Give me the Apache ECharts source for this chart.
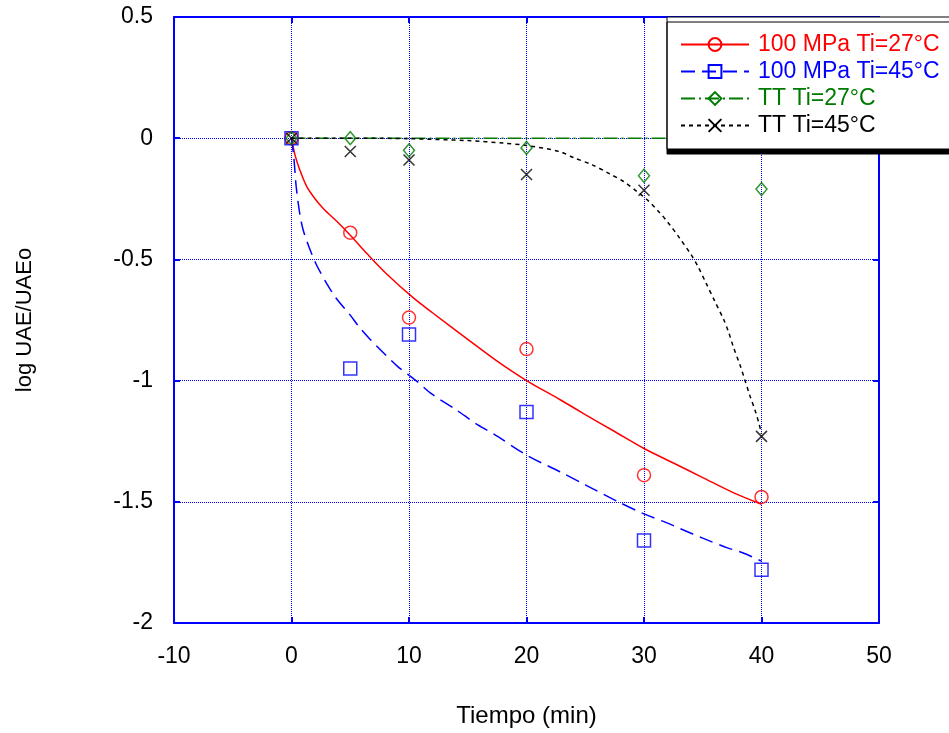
<!DOCTYPE html>
<html>
<head>
<meta charset="utf-8">
<script src="https://cdn.jsdelivr.net/npm/echarts@6/dist/echarts.min.js"></script>
<style>html,body{margin:0;padding:0;background:#fff}#c{width:949px;height:733px}</style>
</head>
<body>
<div id="c"></div>
<script>
// ---- data ----
const seriesNames = ['100 MPa Ti=27°C', '100 MPa Ti=45°C', 'TT Ti=27°C', 'TT Ti=45°C'];
const seriesColors = ['#ff0000', '#0000ff', '#007a00', '#000000'];
const timePoints = [0, 5, 10, 20, 30, 40];
const red27 = [0, -0.39, -0.74, -0.87, -1.39, -1.48];
const blue45 = [0, -0.95, -0.81, -1.13, -1.66, -1.78];
const green27 = [0, 0, -0.05, -0.04, -0.155, -0.21];
const black45 = [0, -0.055, -0.09, -0.15, -0.215, -1.23];

// fitted curves
const redFitT = [0, 0.3, 0.7, 1.3, 2, 2.7, 4, 5, 6.5, 8.1, 10.4, 12, 15, 17.5, 20, 22.9, 25, 27.5, 30, 32.5, 35, 37.5, 40];
const redFitY = [0, -0.07, -0.13, -0.2, -0.25, -0.29, -0.35, -0.40, -0.48, -0.56, -0.66, -0.72, -0.83, -0.92, -1.0, -1.08, -1.14, -1.21, -1.28, -1.34, -1.40, -1.46, -1.51];
const blueFitT = [0, 0.2, 0.4, 0.7, 1, 1.5, 2.1, 3, 3.8, 5, 5.7, 6.7, 7.8, 9, 10.6, 11.9, 14, 15.9, 17.2, 20.1, 22.8, 25, 27.8, 30, 31.9, 33.2, 35, 37.1, 38.4, 40];
const blueFitY = [0, -0.08, -0.2, -0.31, -0.38, -0.45, -0.52, -0.6, -0.66, -0.73, -0.775, -0.83, -0.884, -0.94, -1.0, -1.054, -1.12, -1.184, -1.22, -1.31, -1.375, -1.43, -1.5, -1.55, -1.586, -1.613, -1.65, -1.69, -1.71, -1.745];
const greenFitT = [0, 40];
const greenFitY = [0, 0];
const blackFitT = [0, 5, 10, 15, 18, 20, 22.8, 24, 25.6, 27, 28.3, 29.4, 30.3, 31.2, 32, 33, 34, 34.6, 35.3, 36, 36.8, 37.2, 37.6, 38.2, 38.6, 39, 39.5, 39.8, 40];
const blackFitY = [0, 0, -0.002, -0.01, -0.02, -0.03, -0.055, -0.08, -0.11, -0.145, -0.18, -0.22, -0.255, -0.30, -0.345, -0.41, -0.48, -0.53, -0.6, -0.67, -0.75, -0.8, -0.86, -0.94, -1.0, -1.06, -1.13, -1.18, -1.22];

const xMin = -10, xMax = 50, xStep = 10;
const yMin = -2, yMax = 0.5, yStep = 0.5;
const xTitle = 'Tiempo (min)';
const yTitle = 'log UAE/UAEo';

// ---- build ----
const pts = (xs, ys) => xs.map((x, i) => [x, ys[i]]);
const FONT = 'Liberation Sans, Arial, sans-serif';
const blue = '#0000ff';
const xPath = 'path://M0,0L10,10M10,0L0,10';

const lineStyles = [
  { type: 'solid', width: 1.5 },
  { type: [14, 7], width: 1.5 },
  { type: [14, 4, 2, 4], width: 1.5 },
  { type: [4, 4], width: 1.5 }
];
const smoothing = [0.3, 0.3, false, 0.3];
const symbols = ['circle', 'rect', 'diamond', xPath];
const symbolSizes = [13, 13, [11, 13], 11];
const fits = [pts(redFitT, redFitY), pts(blueFitT, blueFitY), pts(greenFitT, greenFitY), pts(blackFitT, blackFitY)];
const marks = [pts(timePoints, red27), pts(timePoints, blue45), pts(timePoints, green27), pts(timePoints, black45)];

const series = [];
seriesNames.forEach((n, i) => {
  series.push({
    name: n, type: 'line', data: fits[i], showSymbol: false, symbol: symbols[i], symbolSize: symbolSizes[i],
    smooth: smoothing[i],
    color: seriesColors[i],
    lineStyle: Object.assign({ color: seriesColors[i] }, lineStyles[i]),
    itemStyle: { color: 'rgba(255,255,255,0)', borderColor: seriesColors[i], borderWidth: 1.5 },
    silent: true, animation: false, z: 3
  });
});
seriesNames.forEach((n, i) => {
  series.push({
    name: n, type: 'scatter', data: marks[i], symbol: symbols[i], symbolSize: symbolSizes[i],
    itemStyle: { color: 'rgba(255,255,255,0)', borderColor: seriesColors[i], borderWidth: 1.5 },
    animation: false, z: 4
  });
});

const axisCommon = {
  type: 'value',
  axisLine: { show: true, onZero: false, lineStyle: { color: blue, width: 2 } },
  axisTick: { show: true, inside: true, length: 6, lineStyle: { color: blue, width: 2 } },
  splitLine: { show: false }
};

const option = {
  backgroundColor: '#fff',
  animation: false,
  grid: { left: 174, right: 70, top: 17, bottom: 105, containLabel: false },
  legend: {
    orient: 'vertical', left: 667, top: 17,
    data: seriesNames.map((n, i) => ({ name: n, textStyle: { color: seriesColors[i] } })),
    itemWidth: 68, itemHeight: 16, itemGap: 4,
    padding: [16, 10, 12, 13],
    backgroundColor: '#fff', borderColor: '#000', borderWidth: 1,
    shadowColor: '#000', shadowBlur: 0, shadowOffsetX: 0, shadowOffsetY: 5,
    textStyle: { fontFamily: FONT, fontSize: 23, lineHeight: 16, padding: [0, 0, 0, 4] },
    selectedMode: false
  },
  xAxis: [
    Object.assign({}, axisCommon, {
      min: xMin, max: xMax, interval: xStep, position: 'bottom',
      name: xTitle, nameLocation: 'middle', nameGap: 81,
      nameTextStyle: { fontFamily: FONT, fontSize: 24, color: '#000' },
      axisLabel: { fontFamily: FONT, fontSize: 23, color: '#000', margin: 22 },
      splitLine: { show: true, lineStyle: { color: blue, type: [1, 1], width: 1 } }
    }),
    Object.assign({}, axisCommon, {
      min: xMin, max: xMax, interval: xStep, position: 'top', axisLabel: { show: false }
    })
  ],
  yAxis: [
    Object.assign({}, axisCommon, {
      min: yMin, max: yMax, interval: yStep, position: 'left',
      name: yTitle, nameLocation: 'middle', nameGap: 138,
      nameTextStyle: { fontFamily: FONT, fontSize: 22, color: '#000' },
      axisLabel: { fontFamily: FONT, fontSize: 23, color: '#000', margin: 21 },
      splitLine: { show: true, lineStyle: { color: blue, type: [1, 1], width: 1 } }
    }),
    Object.assign({}, axisCommon, {
      min: yMin, max: yMax, interval: yStep, position: 'right', axisLabel: { show: false }
    })
  ],
  series: series
};

const chart = echarts.init(document.getElementById('c'), null, { renderer: 'canvas' });
chart.setOption(option);
</script>
</body>
</html>
